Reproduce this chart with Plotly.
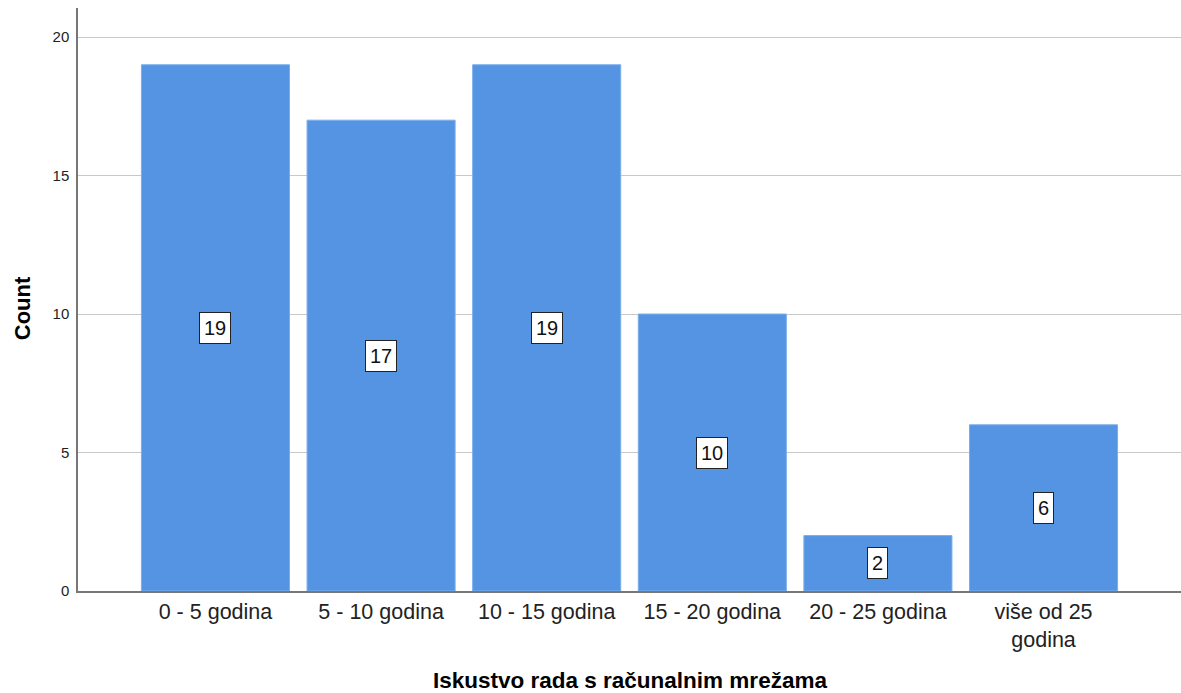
import plotly.graph_objects as go

categories = ["0 - 5 godina", "5 - 10 godina", "10 - 15 godina", "15 - 20 godina",
              "20 - 25 godina", "više od 25<br>godina"]
counts = [19, 17, 19, 10, 2, 6]
y_ticks = [0, 5, 10, 15, 20]
x_title = "Iskustvo rada s računalnim mrežama"
y_title = "Count"

bar_color = "#5594E3"
font_family = "Liberation Sans, Arial, sans-serif"

fig = go.Figure()
fig.add_trace(go.Bar(
    x=list(range(len(categories))),
    y=counts,
    width=0.894,
    marker=dict(color=bar_color, line=dict(color="#7aaeea", width=1)),
    hoverinfo="skip",
))

annotations = []
for i, v in enumerate(counts):
    annotations.append(dict(
        x=i, y=v / 2, xref="x", yref="y", text=str(v), showarrow=False,
        font=dict(family=font_family, size=20, color="#111111"),
        bgcolor="white", bordercolor="#222222", borderwidth=1, borderpad=4,
    ))

# plot area: x 78..1181, y 8..591 (583 px tall, 1103 px wide)
annotations.append(dict(
    x=0.5, y=-0.1535, xref="paper", yref="paper", text="<b>" + x_title + "</b>",
    showarrow=False, xanchor="center", yanchor="middle",
    font=dict(family=font_family, size=22.5, color="black"),
))
annotations.append(dict(
    x=-0.0508, y=0.485, xref="paper", yref="paper", text="<b>" + y_title + "</b>",
    showarrow=False, xanchor="center", yanchor="middle", textangle=-90,
    font=dict(family=font_family, size=22, color="black"),
))

fig.update_layout(
    width=1181, height=693,
    margin=dict(l=78, r=0, t=8, b=102),
    paper_bgcolor="white", plot_bgcolor="white",
    showlegend=False,
    annotations=annotations,
    bargap=0.1,
)
fig.update_xaxes(
    range=[-0.83, 5.83],
    tickmode="array", tickvals=list(range(len(categories))), ticktext=categories,
    tickfont=dict(family=font_family, size=21.5, color="#222222"),
    showgrid=False, showline=True, linecolor="#777777", linewidth=1.5,
    ticks="", zeroline=False,
)
fig.update_yaxes(
    range=[0, 21.05],
    tickmode="array", tickvals=y_ticks,
    tickfont=dict(family=font_family, size=15, color="#222222"),
    ticklabelstandoff=4,
    showgrid=True, gridcolor="#c8c8c8", gridwidth=1,
    showline=True, linecolor="#777777", linewidth=1.5,
    ticks="", ticklen=0, zeroline=False,
)

fig.write_html(
    "out.html",
    config={"displayModeBar": False},
    post_script="document.body.style.margin='0';document.body.style.overflow='hidden';"
                "document.documentElement.style.overflow='hidden';",
)
